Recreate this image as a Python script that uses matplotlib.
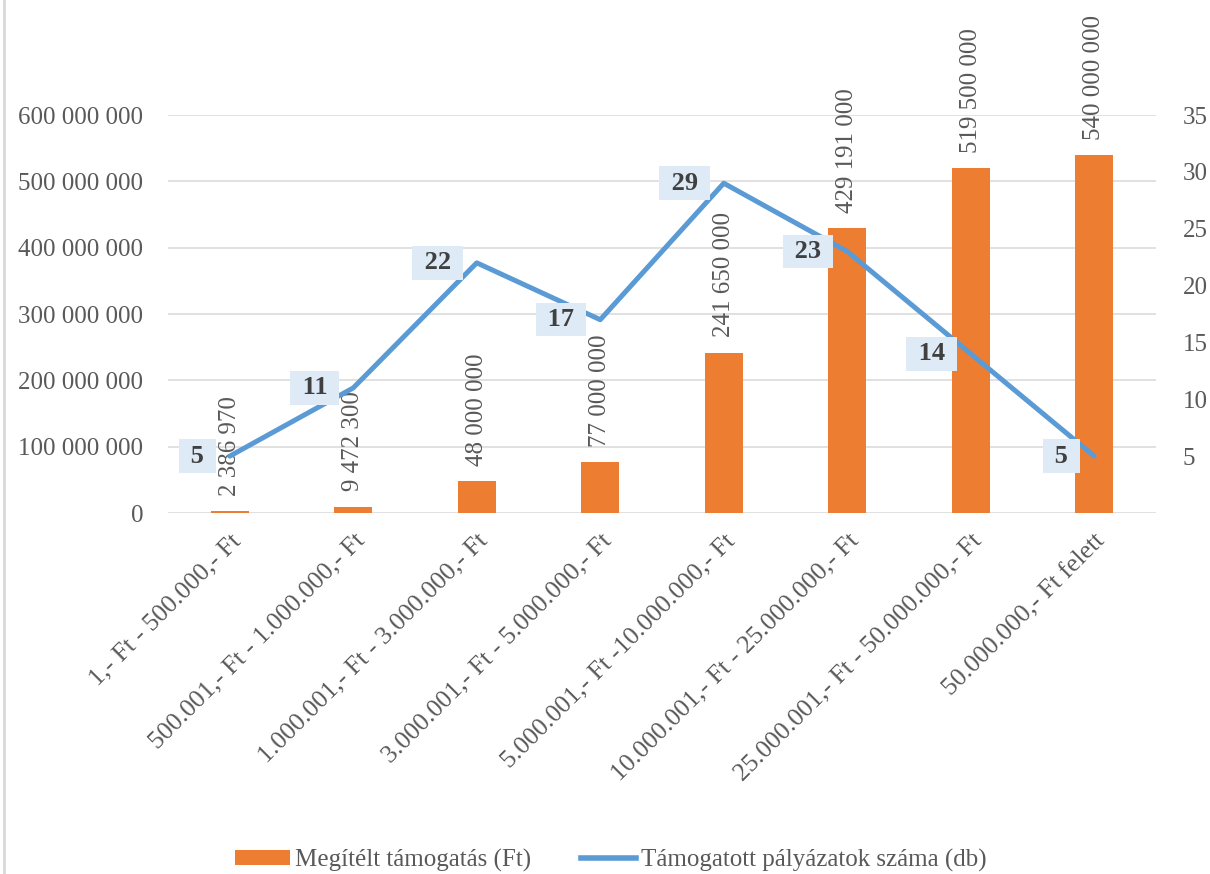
import numpy as np
import matplotlib
matplotlib.use("Agg", force=True)
import matplotlib.pyplot as plt
from matplotlib.lines import Line2D

categories = [
    "1,- Ft - 500.000,- Ft",
    "500.001,- Ft - 1.000.000,- Ft",
    "1.000.001,- Ft - 3.000.000,- Ft",
    "3.000.001,- Ft - 5.000.000,- Ft",
    "5.000.001,- Ft -10.000.000,- Ft",
    "10.000.001,- Ft - 25.000.000,- Ft",
    "25.000.001,- Ft - 50.000.000,- Ft",
    "50.000.000,- Ft felett",
]
tamogatas = [2386970, 9472300, 48000000, 77000000, 241650000, 429191000, 519500000, 540000000]
palyazatok = [5, 11, 22, 17, 29, 23, 14, 5]

left_ticks = [0, 100e6, 200e6, 300e6, 400e6, 500e6, 600e6]
right_ticks = [5, 10, 15, 20, 25, 30, 35]

ORANGE = "#ED7D31"
BLUE = "#5B9BD5"
GRID = "#D9D9D9"
TXT = "#595959"

plt.rcParams['font.family'] = ['Liberation Serif', 'DejaVu Serif']
FS = 18

def fmt(v):
    return f"{int(v):,}".replace(",", " ")

fig = plt.figure(figsize=(12.1, 8.74), dpi=100)
ax = fig.add_axes([168/1210, 1 - 513/874, (1156-168)/1210, (513-115)/874])
ax2 = ax.twinx()

x = np.arange(len(categories))
bars = ax.bar(x, tamogatas, width=0.31, color=ORANGE, zorder=2,
              label="Megítélt támogatás (Ft)")
ax.set_xlim(-0.5, len(categories) - 0.5)
ax.set_ylim(0, 600e6)
ax.set_yticks(left_ticks)
ax.set_yticklabels([fmt(v) for v in left_ticks])
ax.grid(axis='y', color=GRID, linewidth=1.1, zorder=0)
ax.set_axisbelow(True)
for s in ax.spines.values():
    s.set_visible(False)
for s in ax2.spines.values():
    s.set_visible(False)
ax.tick_params(axis='y', length=0, pad=18, labelsize=FS, labelcolor=TXT)
ax.tick_params(axis='x', length=0, pad=12, labelsize=FS + 0.5, labelcolor=TXT)
ax.set_xticks(x)
ax.set_xticklabels(categories, rotation=45, ha='right', va='top', rotation_mode='anchor')

for xi, v in zip(x, tamogatas):
    ax.annotate(fmt(v), (xi, v), xytext=(0, 11), textcoords='offset points',
                rotation=90, ha='center', va='bottom', fontsize=FS, color=TXT,
                annotation_clip=False)

ax2.plot(x, palyazatok, color=BLUE, linewidth=3.6, solid_capstyle='round', zorder=3,
         label="Támogatott pályázatok száma (db)")
ax2.set_ylim(0, 35)
ax2.set_yticks(right_ticks)
ax2.tick_params(axis='y', length=0, pad=19, labelsize=FS, labelcolor=TXT)

for xi, v in zip(x, palyazatok):
    ax2.annotate(f" {v} ", (xi, v), xytext=(-14, 0), textcoords='offset points',
                 ha='right', va='center', fontsize=FS + 1, fontweight='bold', color="#404040",
                 bbox=dict(boxstyle='square,pad=0.2', facecolor="#DEEBF7", edgecolor='none'),
                 zorder=4)

handles = [bars, Line2D([0], [0], color=BLUE, linewidth=4)]
fig.legend(handles, ["Megítélt támogatás (Ft)", "Támogatott pályázatok száma (db)"],
           loc='center', bbox_to_anchor=(0.505, 1 - 860/874), ncol=2, frameon=False,
           fontsize=FS, labelcolor=TXT, handlelength=2.2, handleheight=0.55,
           columnspacing=2.0, handletextpad=0.2)

fig.add_artist(Line2D([4/1210, 4/1210], [0, 1], color=GRID, linewidth=2, transform=fig.transFigure))

fig.savefig("out.png", dpi=100)
